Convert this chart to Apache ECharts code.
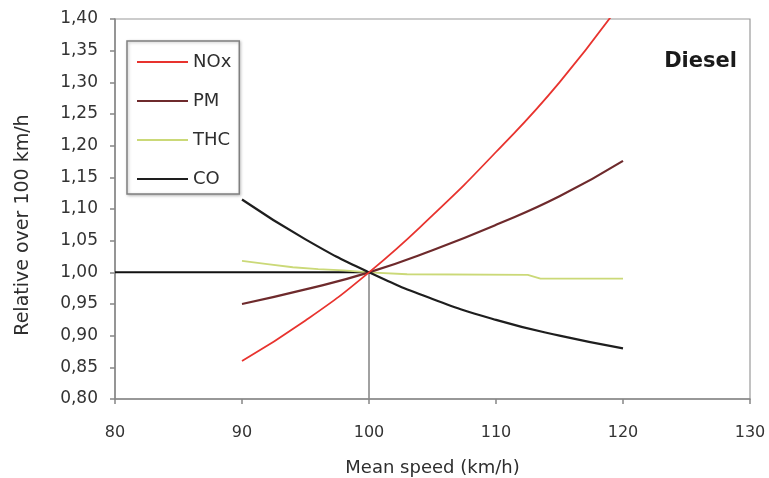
<!DOCTYPE html>
<html>
<head>
<meta charset="utf-8">
<title>Diesel</title>
<script src="https://cdn.jsdelivr.net/npm/echarts@6/dist/echarts.min.js"></script>
<style>
  html, body { margin: 0; padding: 0; background: #fff; }
  #grafica { width: 769px; height: 478px; }
</style>
</head>
<body>
<div id="grafica"></div>
<script>
// valores (velocidad media, relativo a 100 km/h)
var velNox = [90, 95, 100, 105, 110, 115, 120];
var nox = [0.86, 0.924, 1.00, 1.09, 1.19, 1.30, 1.43];

var velPm = [90, 95, 100, 105, 110, 115, 120];
var pm = [0.95, 0.973, 1.00, 1.035, 1.075, 1.12, 1.176];

var velThc = [90, 92, 94, 96, 98, 100, 103, 112.5, 113.5, 120];
var thc = [1.018, 1.013, 1.008, 1.005, 1.003, 1.00, 0.997, 0.996, 0.99, 0.99];

var velCo = [90, 95, 100, 105, 110, 115, 120];
var co = [1.115, 1.052, 1.00, 0.958, 0.925, 0.90, 0.88];

// lineas de referencia
var refH = [[80, 1.00], [100, 1.00]];
var refV = [[100, 1.00], [100, 0.80]];

var ticksX = [80, 90, 100, 110, 120, 130];

function pares(xs, ys) {
    var out = [];
    xs.forEach(function (x, i) { out.push([x, ys[i]]); });
    return out;
}

var fuente = 'DejaVu Sans';
var grafico = echarts.init(document.getElementById('grafica'));

var option = {
    backgroundColor: '#fff',
    animation: false,
    textStyle: { fontFamily: fuente },
    grid: {
        left: 115, right: 19, top: 19, bottom: 79,
        outerBoundsMode: 'none',
        show: true, borderColor: '#9a9a9a', borderWidth: 1.2
    },
    title: {
        text: 'Diesel',
        right: 27, top: 46,
        textStyle: { fontFamily: fuente, fontSize: 21, fontWeight: 'bold', color: '#1a1a1a' }
    },
    legend: {
        data: ['NOx', 'PM', 'THC', 'CO'],
        orient: 'vertical',
        left: 127, top: 41,
        padding: [12, 8, 6, 9],
        itemWidth: 51, itemHeight: 14, itemGap: 21,
        itemStyle: { opacity: 0, borderWidth: 0 },
        borderColor: '#808080', borderWidth: 1.5,
        shadowColor: 'rgba(0,0,0,0.25)', shadowBlur: 3, shadowOffsetX: 1, shadowOffsetY: 1,
        backgroundColor: '#fff',
        textStyle: { fontFamily: fuente, fontSize: 18, color: '#2e2e2e', padding: [0, 0, 0, 0] }
    },
    xAxis: {
        type: 'value', min: 80, max: 130, interval: 10,
        name: 'Mean speed (km/h)', nameLocation: 'middle', nameGap: 60,
        nameTextStyle: { fontFamily: fuente, fontSize: 18, color: '#2e2e2e' },
        axisLine: { lineStyle: { color: '#868686', width: 1.5 } },
        axisTick: { show: true, length: 5, lineStyle: { color: '#868686', width: 1.5 } },
        axisLabel: {
            margin: 26, fontSize: 16, color: '#333',
            formatter: function (v) { return ticksX.indexOf(v) >= 0 ? String(v) : ''; }
        },
        splitLine: { show: false }
    },
    yAxis: {
        type: 'value', min: 0.8, max: 1.4, interval: 0.05,
        name: 'Relative over 100 km/h', nameLocation: 'middle', nameGap: 82,
        nameTextStyle: { fontFamily: fuente, fontSize: 19, color: '#2e2e2e', padding: [0, 32, 0, 0] },
        axisLine: { show: true, lineStyle: { color: '#868686', width: 1.5 } },
        axisTick: { show: true, length: 5, lineStyle: { color: '#868686', width: 1.5 } },
        axisLabel: {
            margin: 17, fontSize: 17, color: '#333',
            formatter: function (v) { return v.toFixed(2).replace('.', ','); }
        },
        splitLine: { show: false }
    },
    series: [
        {
            name: 'ref1', type: 'line', data: refH, symbol: 'none', silent: true,
            lineStyle: { color: '#111', width: 2 }, z: 1
        },
        {
            name: 'ref2', type: 'line', data: refV, symbol: 'none', silent: true,
            lineStyle: { color: '#8a8a8a', width: 1.6 }, z: 1
        },
        {
            name: 'THC', type: 'line', data: pares(velThc, thc), symbol: 'none',
            itemStyle: { color: '#cbd978' },
            lineStyle: { color: '#cbd978', width: 1.8 }, z: 2
        },
        {
            name: 'PM', type: 'line', data: pares(velPm, pm), symbol: 'none', smooth: true,
            itemStyle: { color: '#6e2a2c' },
            lineStyle: { color: '#6e2a2c', width: 2.2 }, z: 3
        },
        {
            name: 'CO', type: 'line', data: pares(velCo, co), symbol: 'none', smooth: true,
            itemStyle: { color: '#1e1e1e' },
            lineStyle: { color: '#1e1e1e', width: 2.2 }, z: 3
        },
        {
            name: 'NOx', type: 'line', data: pares(velNox, nox), symbol: 'none', smooth: true,
            clip: true,
            itemStyle: { color: '#e8332e' },
            lineStyle: { color: '#e8332e', width: 1.8 }, z: 4
        }
    ]
};

grafico.setOption(option);
</script>
</body>
</html>
